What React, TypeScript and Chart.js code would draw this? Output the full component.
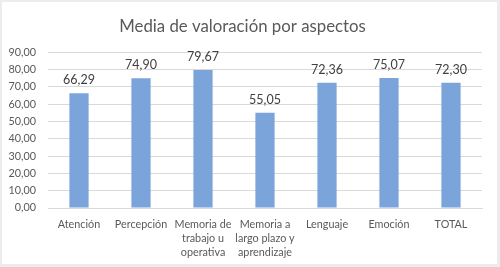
import React, { useEffect, useRef } from "react";
import { Chart, registerables } from "chart.js";

Chart.register(...registerables);

const categories: (string | string[])[] = [
  "Atención",
  "Percepción",
  ["Memoria de", "trabajo u", "operativa"],
  ["Memoria a", "largo plazo y", "aprendizaje"],
  "Lenguaje",
  "Emoción",
  "TOTAL",
];
const values = [66.29, 74.9, 79.67, 55.05, 72.36, 75.07, 72.3];
const titleText = "Media de valoración por aspectos";

const fmt = (v: number) => v.toFixed(2).replace(".", ",");
const FONT = "Lato";

const bgPlugin = {
  id: "bgFrame",
  beforeDraw(chart: any) {
    const { ctx, width, height } = chart;
    ctx.save();
    ctx.fillStyle = "#ececec";
    ctx.fillRect(0, 0, width, height);
    ctx.fillStyle = "#ffffff";
    ctx.fillRect(2, 2, width - 5, height - 5);
    ctx.restore();
  },
};

const labelPlugin = {
  id: "valueLabels",
  afterDatasetsDraw(chart: any) {
    const { ctx } = chart;
    const meta = chart.getDatasetMeta(0);
    ctx.save();
    ctx.font = `12.5px ${FONT}`;
    ctx.fillStyle = "#404040";
    ctx.textAlign = "center";
    ctx.textBaseline = "middle";
    meta.data.forEach((bar: any, i: number) => {
      ctx.fillText(fmt(values[i]), bar.x, bar.y - 13);
    });
    ctx.restore();
  },
};

export default function App() {
  const ref = useRef<HTMLCanvasElement | null>(null);
  useEffect(() => {
    document.body.style.margin = "0";
    if (!ref.current) return;
    const chart = new Chart(ref.current, {
      type: "bar",
      data: {
        labels: categories,
        datasets: [
          {
            data: values,
            backgroundColor: "#7ba4db",
            barPercentage: 0.31,
            categoryPercentage: 1,
          },
        ],
      },
      options: {
        animation: false,
        responsive: false,
        layout: { padding: { left: 3, right: 18, top: 2, bottom: 0 } },
        plugins: {
          legend: { display: false },
          tooltip: { enabled: false },
          title: {
            display: true,
            text: titleText,
            color: "#595959",
            font: { family: FONT, size: 16.8, weight: "normal" as any },
            padding: { top: 15, bottom: 15 },
          },
        },
        scales: {
          x: {
            grid: { display: false, drawTicks: false },
            border: { display: true, color: "#d9d9d9" },
            afterFit: (scale: any) => {
              scale.height = 59;
            },
            ticks: {
              color: "#595959",
              font: { family: FONT, size: 10.8, lineHeight: 1.28 },
              padding: 10,
              maxRotation: 0,
              autoSkip: false,
            },
          },
          y: {
            min: 0,
            max: 90,
            grid: { color: "#d9d9d9", drawTicks: false },
            border: { display: false },
            afterFit: (scale: any) => {
              scale.width = 45;
            },
            ticks: {
              stepSize: 10,
              color: "#595959",
              font: { family: FONT, size: 10.8 },
              padding: 12,
              callback: (v: any) => fmt(Number(v)),
            },
          },
        },
      },
      plugins: [bgPlugin, labelPlugin],
    });
    return () => chart.destroy();
  }, []);
  return (
    <div style={{ position: "fixed", left: 0, top: 0, width: 500, height: 267 }}>
      <canvas ref={ref} width={500} height={267} style={{ width: 500, height: 267, display: "block" }} />
    </div>
  );
}
